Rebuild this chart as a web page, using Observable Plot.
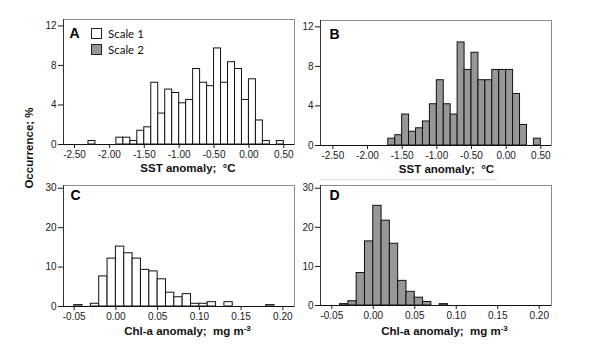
<!DOCTYPE html>
<html>
<head>
<meta charset="utf-8">
<script src="https://cdn.jsdelivr.net/npm/d3@7"></script>
<script src="https://cdn.jsdelivr.net/npm/@observablehq/plot@0.6"></script>
<style>
  html, body { margin: 0; padding: 0; background: #fff; }
  #fig { position: relative; width: 598px; height: 354px; overflow: hidden; font-family: "Liberation Sans", Arial, sans-serif; color: #111; }
  .panel { position: absolute; }
  .xlab { position: absolute; font-weight: bold; font-size: 11.5px; transform: translate(-50%, -50%); white-space: pre; line-height: 1; }
  .xlab sup { font-size: 8px; vertical-align: 4px; line-height: 0; }
  .ylab { position: absolute; font-weight: bold; font-size: 11.5px; white-space: pre; transform: translate(-50%, -50%) rotate(-90deg); line-height: 1; }
  .sw { position: absolute; width: 11px; height: 11px; border: 1px solid #222; box-sizing: border-box; }
  .lt { position: absolute; font-family: Lato, "Liberation Sans", sans-serif; font-size: 11.5px; line-height: 1; transform: translateY(-50%); color: #111; }
</style>
</head>
<body>
<div id="fig"></div>
<script>
// ---------- data (percent occurrence per bin) ----------
const sstBinWidth = 0.1;
const sstBinStart = [-2.3,-2.2,-2.1,-2.0,-1.9,-1.8,-1.7,-1.6,-1.5,-1.4,-1.3,-1.2,-1.1,-1.0,-0.9,-0.8,-0.7,-0.6,-0.5,-0.4,-0.3,-0.2,-0.1,0.0,0.1,0.2,0.3,0.4];
const sstScale1 = [0.35,0,0,0,0.69,0.69,0.35,1.39,1.74,6.25,3.13,5.56,5.21,4.17,4.51,7.64,6.25,5.90,9.72,6.25,8.33,7.64,4.51,6.60,2.43,0.35,0,0.35];
const sstScale2 = [0,0,0,0,0,0,0.69,1.04,3.13,1.39,1.74,2.43,4.17,6.60,4.17,3.13,10.42,7.64,9.38,6.60,6.60,7.64,7.64,7.64,5.21,2.08,0,0.69];

const chlBinWidth = 0.01;
const chlBinStart = [-0.05,-0.04,-0.03,-0.02,-0.01,0.00,0.01,0.02,0.03,0.04,0.05,0.06,0.07,0.08,0.09,0.10,0.11,0.12,0.13,0.14,0.15,0.16,0.17,0.18];
const chlScale1 = [0.35,0,0.69,7.64,12.15,15.2,13.5,12.15,9.3,8.9,6.9,3.5,2.35,3.13,0.69,0.69,1.1,0,1.1,0,0,0,0,0.35];
const chlScale2 = [0,0.35,1.1,8.3,16.4,25.5,21.7,15.8,6.3,3.5,2.0,0.9,0,0.35,0,0,0,0,0,0,0,0,0,0];

const sstTicks = [-2.5,-2.0,-1.5,-1.0,-0.5,0.0,0.5];
const chlTicks = [-0.05,0.00,0.05,0.10,0.15,0.20];
const sstYTicks = [0,4,8,12];
const chlYTicks = [0,10,20,30];

const seriesNames = ["Scale 1", "Scale 2"];
const seriesFill = {"Scale 1": "#ffffff", "Scale 2": "#979797"};

const sstLabel = "SST anomaly;  \u00b0C";
const chlLabel = "Chl-a anomaly;  mg m<sup>-3</sup>";
const yLabel = "Occurrence; %";

// ---------- helpers ----------
function bins(starts, values, w) {
  return starts.map((s, i) => ({start: s, end: s + w, value: values[i]})).filter(d => d.value > 0);
}

function panel({data, fill, xDomain, yDomain, xTicks, yTicks, ml, mr, mt, mb, letter, ldx, ldy}) {
  return Plot.plot({
    width: 299, height: 177,
    marginLeft: ml, marginRight: mr, marginTop: mt, marginBottom: mb,
    style: {fontFamily: "'Liberation Sans', Arial, sans-serif", fontSize: "10px", color: "#1a1a1a", background: "transparent"},
    x: {domain: xDomain},
    y: {domain: yDomain},
    marks: [
      Plot.frame({stroke: "#8c8c8c"}),
      Plot.rectY(data, {x1: "start", x2: "end", y: "value", fill, stroke: "#111", strokeWidth: 1}),
      Plot.ruleY([yDomain[0]], {stroke: "#111"}),
      Plot.ruleX([xDomain[0]], {stroke: "#333"}),
      Plot.axisX({ticks: xTicks, tickFormat: d => d.toFixed(2), tickSize: 4, tickPadding: 2, label: null}),
      Plot.axisY({ticks: yTicks, tickSize: 5, tickPadding: 2, label: null}),
      Plot.text([letter], {frameAnchor: "top-left", dx: ldx, dy: ldy, fontWeight: "bold", fontSize: 14, lineAnchor: "top", textAnchor: "start", fill: "#000"})
    ]
  });
}

const fig = document.getElementById("fig");
function place(node, left, top) {
  node.classList.add("panel");
  node.style.left = left + "px";
  node.style.top = top + "px";
  fig.appendChild(node);
}

place(panel({data: bins(sstBinStart, sstScale1, sstBinWidth), fill: seriesFill["Scale 1"],
  xDomain: [-2.658, 0.653], yDomain: [0, 12.65], xTicks: sstTicks, yTicks: sstYTicks,
  ml: 63, mr: 5, mt: 19, mb: 33, letter: "A", ldx: 6, ldy: 9}), 0, 0);

place(panel({data: bins(sstBinStart, sstScale2, sstBinWidth), fill: seriesFill["Scale 2"],
  xDomain: [-2.678, 0.654], yDomain: [0, 12.64], xTicks: sstTicks, yTicks: sstYTicks,
  ml: 21, mr: 47, mt: 20, mb: 32, letter: "B", ldx: 9, ldy: 9}), 299, 0);

place(panel({data: bins(chlBinStart, chlScale1, chlBinWidth), fill: seriesFill["Scale 1"],
  xDomain: [-0.0628, 0.214], yDomain: [0, 30.7], xTicks: chlTicks, yTicks: chlYTicks,
  ml: 63, mr: 5, mt: 8, mb: 48, letter: "C", ldx: 7, ldy: 5}), 0, 177);

place(panel({data: bins(chlBinStart, chlScale2, chlBinWidth), fill: seriesFill["Scale 2"],
  xDomain: [-0.0636, 0.2148], yDomain: [0, 30.7], xTicks: chlTicks, yTicks: chlYTicks,
  ml: 21, mr: 47, mt: 8, mb: 49, letter: "D", ldx: 9, ldy: 5}), 299, 177);

// axis titles
function addLabel(html, x, y, cls) {
  const d = document.createElement("div");
  d.className = cls;
  d.innerHTML = html;
  d.style.left = x + "px";
  d.style.top = y + "px";
  fig.appendChild(d);
}
addLabel(sstLabel, 188, 169, "xlab");
addLabel(sstLabel, 446.5, 170, "xlab");
addLabel(chlLabel, 187.5, 332, "xlab");
addLabel(chlLabel, 444.5, 332, "xlab");
addLabel(yLabel, 30, 148, "ylab");

// faint separator line under panel B title (as in the reference)
const sep = document.createElement("div");
Object.assign(sep.style, {position: "absolute", left: "320px", top: "179px", width: "177px", height: "1px", background: "#e2e2e2"});
fig.appendChild(sep);

// legend in panel A
seriesNames.forEach((name, i) => {
  const sw = document.createElement("div");
  sw.className = "sw";
  sw.style.left = "91px";
  sw.style.top = (28 + i * 16) + "px";
  sw.style.background = seriesFill[name];
  fig.appendChild(sw);
  const t = document.createElement("div");
  t.className = "lt";
  t.textContent = name;
  t.style.left = "108px";
  t.style.top = (34 + i * 16) + "px";
  fig.appendChild(t);
});
</script>
</body>
</html>
